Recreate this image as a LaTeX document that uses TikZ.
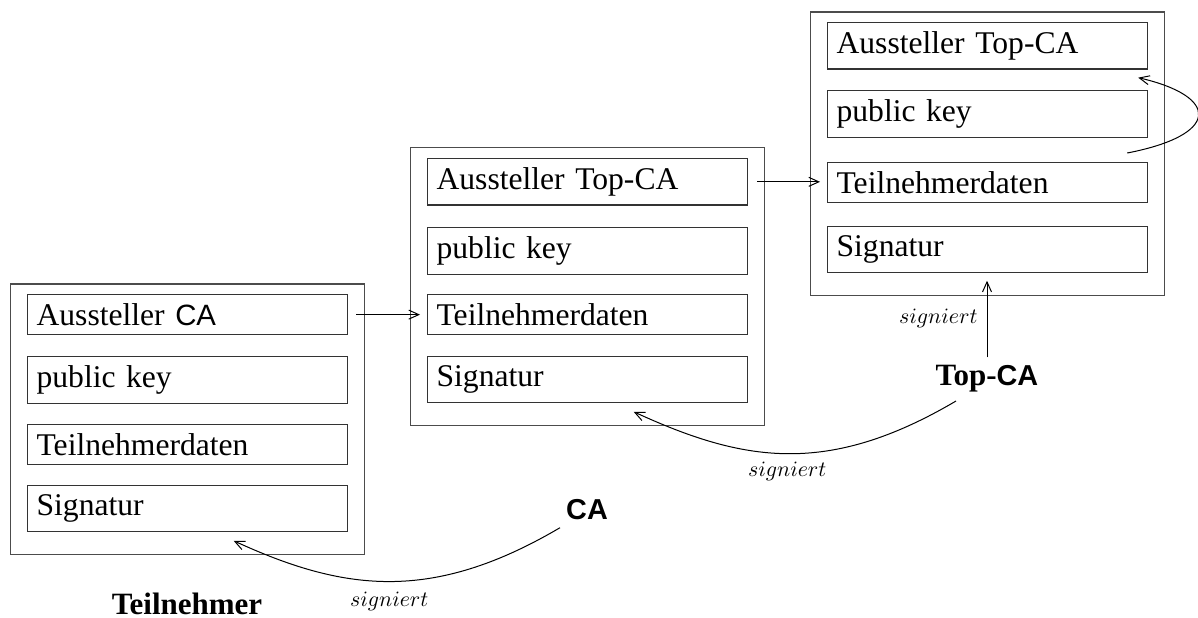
\documentclass[tikz,border=0pt]{standalone}
\usepackage{fontspec}
\setmainfont{Liberation Serif}
\setsansfont{Liberation Sans}[Scale=0.93]
\usetikzlibrary{arrows.meta,calc}

\tikzset{
  field/.style={draw=black!80, line width=0.6pt, anchor=north west,
    text width=151pt, inner xsep=4.5pt, inner ysep=4.45pt, align=left},
  frame/.style={draw=black!70, line width=0.6pt},
  link/.style={draw=black, line width=0.5pt,
    -{Straight Barb[length=5pt,width=4.5pt]}},
  tag/.style={font=\fontsize{11.4}{13}\selectfont, inner sep=0pt},
  who/.style={inner sep=0pt, anchor=base},
}
\newcommand{\ssf}[1]{{\sffamily #1}}

\begin{document}
\begin{tikzpicture}[x=0.5pt, y=-0.5pt, font=\fontsize{15.8}{18}\selectfont]
\useasboundingbox (0,0) rectangle (1198,617);

% participant certificate
\node[field] (a1) at (27,294) {Aussteller \ssf{CA}};
\node[field] (a2) at (27,356) {public key};
\node[field] (a3) at (27,424) {Teilnehmerdaten};
\node[field] (a4) at (27,485) {Signatur};
\draw[frame] ([shift={(-16.5,-10)}]a1.north west) rectangle ([shift={(16.5,23)}]a4.south east);

% CA certificate
\node[field] (b1) at (427,158) {Aussteller Top-CA};
\node[field] (b2) at (427,227) {public key};
\node[field] (b3) at (427,294) {Teilnehmerdaten};
\node[field] (b4) at (427,356) {Signatur};
\draw[frame] ([shift={(-16.5,-10.5)}]b1.north west) rectangle ([shift={(16.5,23)}]b4.south east);

% Top-CA certificate (self-signed)
\node[field] (c1) at (827,22) {Aussteller Top-CA};
\node[field] (c2) at (827,90) {public key};
\node[field] (c3) at (827,162) {Teilnehmerdaten};
\node[field] (c4) at (827,226) {Signatur};
\draw[frame] ([shift={(-16.5,-10)}]c1.north west) rectangle ([shift={(16.5,23)}]c4.south east);

% owners
\node[who, font=\fontsize{15.5}{18}\selectfont\bfseries] (tn) at (187,614) {Teilnehmer};
\node[who, font=\fontsize{15.5}{18}\selectfont\sffamily\bfseries] (ca) at (587,519) {CA};
\node[who, font=\fontsize{15.5}{18}\selectfont\bfseries] (topca) at (987,385) {Top-\ssf{CA}};

% issuer references
\draw[link, shorten <=4pt, shorten >=3.5pt] (a1.east) -- (b3.west);
\draw[link, shorten <=4.5pt, shorten >=3.5pt] (b1.east) -- (b1.east -| c3.west);
\draw[link] ([shift={(-21,-9)}]c3.north east) .. controls +(93,-18) and +(82,19) .. ([shift={(-10,8)}]c1.south east);

% signatures
\draw[link, shorten <=3.5pt, shorten >=4pt] (topca.north) -- (topca.north |- c4.south)
  node[tag, pos=.5, anchor=east, xshift=-4.5pt] {$signiert$};
\draw[link] ([shift={(-31,9)}]topca.south) .. controls +(-129,76) and +(109,50) .. ([shift={(46,9)}]b4.south)
  node[tag, pos=.5, below=4pt] {$signiert$};
\draw[link] ([shift={(-27,8)}]ca.south) .. controls +(-129,76) and +(109,50) .. ([shift={(46,9)}]a4.south)
  node[tag, pos=.5, below=5pt] {$signiert$};
\end{tikzpicture}
\end{document}
